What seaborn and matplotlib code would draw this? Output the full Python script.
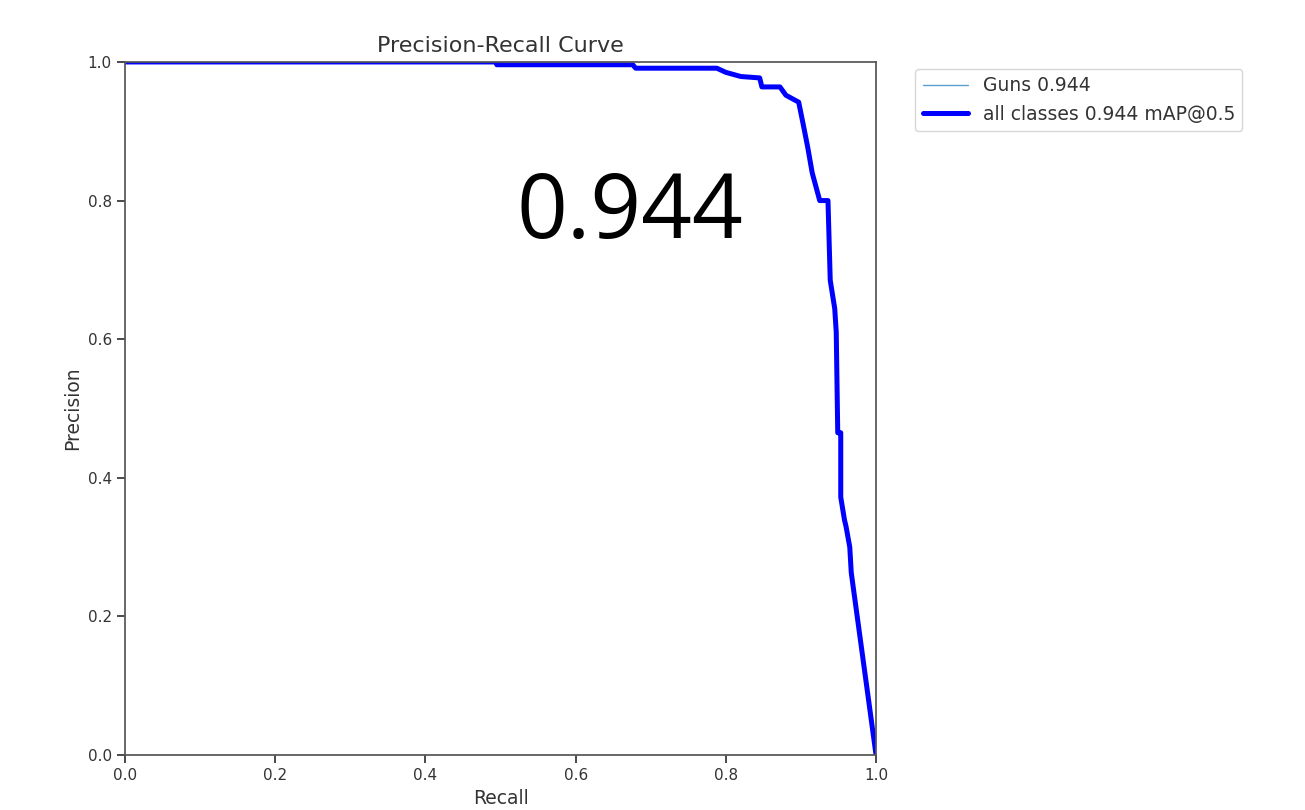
import numpy as np
import pandas as pd
import matplotlib
matplotlib.use('Agg')
import matplotlib.pyplot as plt
import seaborn as sns

# PR curve (recall, precision)
recall = [0.0, 0.495, 0.495, 0.676, 0.680, 0.788, 0.800, 0.820, 0.845, 0.848,
          0.872, 0.880, 0.897, 0.903, 0.909, 0.915, 0.925, 0.936, 0.939, 0.945,
          0.947, 0.949, 0.953, 0.953, 0.958, 0.960, 0.965, 0.967, 1.0]
precision = [1.0, 1.0, 0.996, 0.996, 0.991, 0.991, 0.985, 0.979, 0.977, 0.964,
             0.964, 0.952, 0.942, 0.910, 0.877, 0.840, 0.800, 0.800, 0.685, 0.644,
             0.610, 0.465, 0.465, 0.372, 0.339, 0.330, 0.300, 0.263, 0.0]
class_name = 'Guns'
class_ap = 0.944
map50 = 0.944

df = pd.DataFrame({'Recall': recall, 'Precision': precision})

sns.set_theme(style='ticks')
plt.rcParams['font.family'] = ['DejaVu Sans']

fig = plt.figure(figsize=(13.05, 8.1), dpi=100)
ax = fig.add_axes([0.0958, 0.0679, 0.5755, 0.8556])

# per-class line first, then the thick "all classes" line on top
sns.lineplot(data=df, x='Recall', y='Precision', ax=ax, sort=False, estimator=None,
             color='#5a9fcf', linewidth=1, label=f'{class_name} {class_ap:.3f}')
sns.lineplot(data=df, x='Recall', y='Precision', ax=ax, sort=False, estimator=None,
             color='blue', linewidth=3.6, label=f'all classes {map50:.3f} mAP@0.5')

ax.set_xlim(0, 1)
ax.set_ylim(0, 1)
ax.set_xticks(np.arange(0, 1.01, 0.2))
ax.set_yticks(np.arange(0, 1.01, 0.2))
ax.tick_params(labelsize=11, colors='#333333')
for s in ax.spines.values():
    s.set_color('#555555')
    s.set_visible(True)
ax.set_xlabel('Recall', fontsize=13.5, color='#333333')
ax.set_ylabel('Precision', fontsize=13.5, color='#333333')
ax.set_title('Precision-Recall Curve', fontsize=16, color='#333333', pad=7)

ax.text(0.672, 0.78, f'{map50:.3f}', fontsize=64, ha='center', va='center',
        color='black', family=['Open Sans', 'DejaVu Sans'])

ax.legend(bbox_to_anchor=(1.052, 0.99), loc='upper left', borderaxespad=0,
          fontsize=13.5, handlelength=2.4, frameon=True, labelcolor='#333333')

fig.savefig('out.png', dpi=100)
